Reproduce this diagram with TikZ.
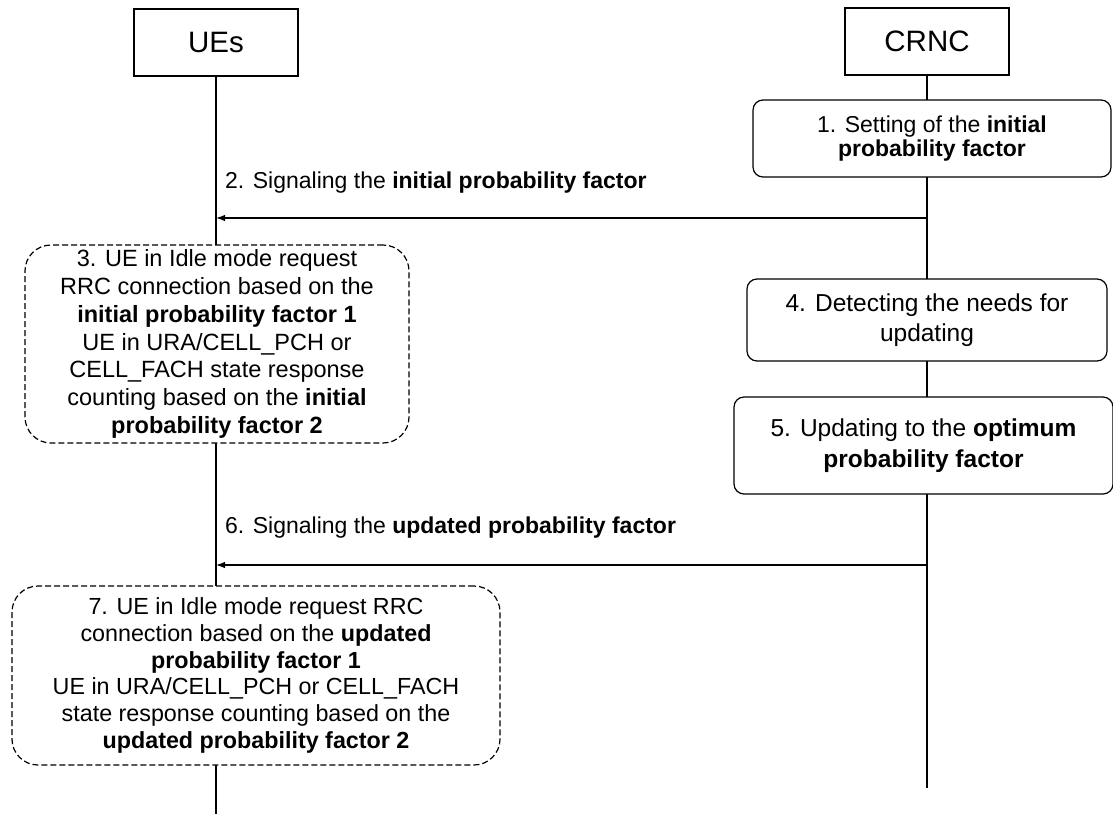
\documentclass[tikz,border=0pt]{standalone}
\usepackage{fontspec}
\setmainfont{Liberation Sans}
\usepackage{tikz}
\usetikzlibrary{arrows.meta, positioning, backgrounds}

\begin{document}
\begin{tikzpicture}[
    x=1pt, y=-1pt,
    actor/.style={rectangle, draw=black, fill=white, line width=1.2pt, minimum width=164pt, minimum height=67pt, font=\fontsize{29.5}{34}\selectfont},
    proc/.style={rectangle, draw=black, fill=white, line width=1.2pt, rounded corners=10pt, align=center, inner sep=0pt},
    ueproc/.style={proc, dash pattern=on 6pt off 3pt, rounded corners=26pt},
    lifeline/.style={draw=black, line width=1.2pt},
    msg/.style={draw=black, line width=1.2pt, -{Latex[length=9pt, width=6.5pt]}},
    lbl/.style={anchor=base west, inner sep=0pt, font=\fontsize{23}{27}\selectfont}
]
    \useasboundingbox (0,0) rectangle (1113,814);

    % Entities
    \node[actor] (UE) at (216,42.5) {UEs};
    \node[actor] (CRNC) at (927,41.5) {CRNC};
    \coordinate (ueEnd) at (216,814);
    \coordinate (crncEnd) at (927,788);

    % Step 1 at the CRNC
    \node[proc, minimum width=358pt, minimum height=77pt, font=\fontsize{23}{24.5}\selectfont] (S1) at (932,138.5) {1. Setting of the \textbf{initial}\\\textbf{probability factor}};

    % Step 2 signalling
    \coordinate (M2) at (927,218);
    \node[lbl] (L2) at (225,188) {2. Signaling the \textbf{initial probability factor}};

    % Step 3 at the UEs
    \node[ueproc, minimum width=384pt, minimum height=198pt, font=\fontsize{23.5}{27.8}\selectfont] (S3) at (217,344) {3. UE in Idle mode request\\RRC connection based on the\\\textbf{initial probability factor 1}\\UE in URA/CELL\_PCH or\\CELL\_FACH state response\\counting based on the \textbf{initial}\\\textbf{probability factor 2}};

    % Steps 4 and 5 at the CRNC
    \node[proc, minimum width=360pt, minimum height=82pt, font=\fontsize{24.5}{30}\selectfont] (S4) at (927,320) {4. Detecting the needs for\\updating};
    \node[proc, minimum width=379pt, minimum height=97pt, font=\fontsize{24.5}{31}\selectfont] (S5) at (923.5,445.5) {5. Updating to the \textbf{optimum}\\\textbf{probability factor}};

    % Step 6 signalling
    \coordinate (M6) at (927,565);
    \node[lbl] (L6) at (225,533) {6. Signaling the \textbf{updated probability factor}};

    % Step 7 at the UEs
    \node[ueproc, minimum width=488pt, minimum height=179pt, font=\fontsize{23.3}{26.8}\selectfont] (S7) at (256,675.5) {7. UE in Idle mode request RRC\\connection based on the \textbf{updated}\\\textbf{probability factor 1}\\UE in URA/CELL\_PCH or CELL\_FACH\\state response counting based on the\\\textbf{updated probability factor 2}};

    % Lifelines and messages
    \begin{scope}[on background layer]
        \draw[lifeline] (UE.south) -- (ueEnd);
        \draw[lifeline] (CRNC.south) -- (crncEnd);
    \end{scope}
    \draw[msg] (M2) -- (UE |- M2);
    \draw[msg] (M6) -- (UE |- M6);
\end{tikzpicture}
\end{document}
